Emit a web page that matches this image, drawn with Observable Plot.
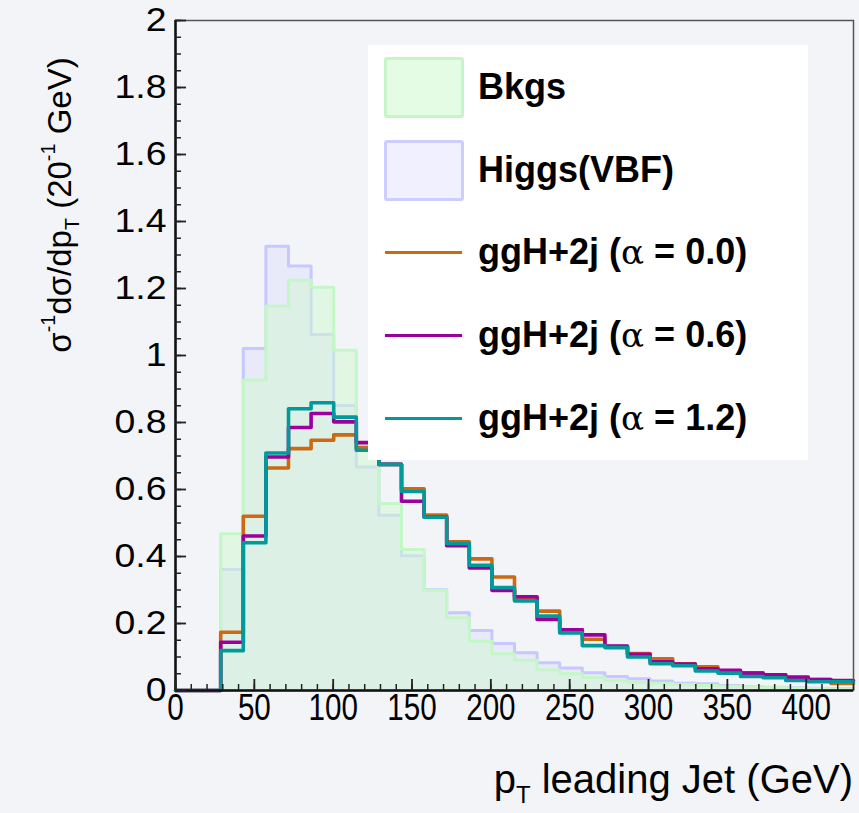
<!DOCTYPE html>
<html><head><meta charset="utf-8">
<script src="https://cdn.jsdelivr.net/npm/d3@7"></script>
<script src="https://cdn.jsdelivr.net/npm/@observablehq/plot@0.6"></script>
<style>
html,body{margin:0;padding:0;background:#f3f4f7;}
#wrap{position:relative;width:859px;height:813px;overflow:hidden;font-family:"Liberation Sans",Arial,Helvetica,sans-serif;color:#000;}
#legend{position:absolute;left:368px;top:45px;width:440px;height:415px;background:#fff;}
.sw{position:absolute;left:16px;width:74px;height:55px;border-radius:3px;}
.ln{position:absolute;left:17px;width:77px;height:3px;}
.lt{position:absolute;left:110px;font-weight:bold;font-size:36px;line-height:40px;white-space:nowrap;transform:translateY(-50%);}
.lt .a{font-weight:normal;font-family:"DejaVu Serif","Liberation Serif",serif;font-size:0.95em;}
#ytitle{position:absolute;left:60px;top:205px;font-size:33px;white-space:nowrap;transform:translate(-50%,-50%) rotate(-90deg);}
#xtitle{position:absolute;right:6px;top:757px;font-size:40px;white-space:nowrap;transform-origin:right center;}
sup,sub{font-size:0.6em;line-height:0;}
sup{vertical-align:0.8em;}
sub{vertical-align:-0.4em;}
</style></head><body><div id="wrap"></div>
<script>
// Binning (30 bins over 0–430 GeV)
const xMin = 0, xMax = 430, nBins = 30;
// Series values, one per bin
const bkgs   = [0,0,0.468,0.927,1.147,1.225,1.204,1.016,0.735,0.558,0.421,0.299,0.217,0.147,0.110,0.090,0.061,0.050,0.039,0.030,0.025,0.022,0.018,0.015,0.013,0.011,0.009,0.007,0.006,0.005];
const vbf    = [0,0,0.361,1.021,1.326,1.267,1.063,0.851,0.667,0.523,0.402,0.301,0.232,0.179,0.140,0.113,0.083,0.067,0.053,0.042,0.035,0.028,0.022,0.020,0.015,0.012,0.010,0.008,0.007,0.006];
const ggH00  = [0,0,0.174,0.520,0.664,0.722,0.747,0.763,0.725,0.675,0.602,0.524,0.444,0.393,0.339,0.272,0.237,0.181,0.153,0.131,0.110,0.095,0.080,0.071,0.058,0.053,0.047,0.038,0.033,0.021];
const ggH06  = [0,0,0.144,0.461,0.697,0.785,0.827,0.802,0.740,0.675,0.565,0.518,0.432,0.366,0.299,0.280,0.212,0.181,0.166,0.133,0.108,0.086,0.079,0.065,0.060,0.052,0.047,0.040,0.033,0.030];
const ggH12  = [0,0,0.119,0.441,0.709,0.841,0.859,0.816,0.717,0.675,0.594,0.517,0.439,0.374,0.307,0.267,0.222,0.172,0.134,0.128,0.100,0.080,0.074,0.058,0.052,0.042,0.038,0.030,0.026,0.026];
// Ticks
const xMajorTicks = [0,50,100,150,200,250,300,350,400];
const xMinorTicks = d3.range(0, 431, 10);
const yMajorTicks = [0,0.2,0.4,0.6,0.8,1,1.2,1.4,1.6,1.8,2];
const yMinorTicks = d3.range(0, 2.0001, 0.05);
const yTickLabels = ["0","0.2","0.4","0.6","0.8","1","1.2","1.4","1.6","1.8","2"];
const xTickLabels = ["0","50","100","150","200","250","300","350","400"];

const edges = d3.range(nBins + 1).map(i => xMin + i * (xMax - xMin) / nBins);
const steps = vals => edges.map((x, i) => ({x, y: vals[Math.min(i, vals.length - 1)]}));

const W = 859, H = 813, mL = 175, mR = 6, mT = 20, mB = 123;
const pW = W - mL - mR, pH = H - mT - mB;

const chart = Plot.plot({
  width: W, height: H,
  marginLeft: mL, marginRight: mR, marginTop: mT, marginBottom: mB,
  x: {domain: [xMin, xMax], axis: null},
  y: {domain: [0, 2], axis: null},
  style: {background: "transparent", fontFamily: "Liberation Sans, Arial, sans-serif", maxWidth: "none"},
  marks: [
    Plot.areaY(steps(vbf), {x: "x", y: "y", curve: "step-after", fill: "#cfcfff", fillOpacity: 0.3}),
    Plot.line(steps(vbf), {x: "x", y: "y", curve: "step-after", stroke: "#c6c8ff", strokeWidth: 3}),
    Plot.areaY(steps(bkgs), {x: "x", y: "y", curve: "step-after", fill: "#d2f7d2", fillOpacity: 0.5}),
    Plot.line(steps(bkgs), {x: "x", y: "y", curve: "step-after", stroke: "#c4f7c6", strokeWidth: 3}),
    Plot.line(steps(ggH00), {x: "x", y: "y", curve: "step-after", stroke: "#cc6a14", strokeWidth: 3.6}),
    Plot.line(steps(ggH06), {x: "x", y: "y", curve: "step-after", stroke: "#9c009c", strokeWidth: 3.6}),
    Plot.line(steps(ggH12), {x: "x", y: "y", curve: "step-after", stroke: "#009a9a", strokeWidth: 3.6}),
    // frame
    Plot.frame({stroke: "#555", strokeWidth: 1.5}),
    Plot.ruleX([xMin], {stroke: "#111", strokeWidth: 2.5}),
    Plot.ruleY([0], {stroke: "#111", strokeWidth: 2.5}),
    // ticks
    Plot.tickX(xMinorTicks, {x: d => d, insetTop: pH - 6, stroke: "#222", strokeWidth: 1.5}),
    Plot.tickX(xMajorTicks, {x: d => d, insetTop: pH - 11, stroke: "#222", strokeWidth: 1.8}),
    Plot.tickY(yMinorTicks, {y: d => d, insetRight: pW - 6, stroke: "#222", strokeWidth: 1.5}),
    Plot.tickY(yMajorTicks, {y: d => d, insetRight: pW - 11, stroke: "#222", strokeWidth: 1.8}),
    // tick labels
    Plot.text(xMajorTicks, {x: d => d, text: (d, i) => xTickLabels[i], frameAnchor: "bottom", dy: 29, fontSize: 37, fill: "#000"}),
    Plot.text(yMajorTicks, {y: d => d, text: (d, i) => yTickLabels[i], frameAnchor: "left", dx: -9, textAnchor: "end", fontSize: 34, fill: "#000"})
  ]
});
const wrap = document.getElementById("wrap");
wrap.appendChild(chart);

// condense the x tick labels / widen the y tick labels like the reference
chart.querySelectorAll('g[font-size="37"] text').forEach(t => {
  const L = t.getComputedTextLength();
  t.setAttribute("textLength", (L * 0.8).toFixed(1));
  t.setAttribute("lengthAdjust", "spacingAndGlyphs");
});
chart.querySelectorAll('g[font-size="34"] text').forEach(t => {
  const L = t.getComputedTextLength();
  t.setAttribute("textLength", (L * 1.1).toFixed(1));
  t.setAttribute("lengthAdjust", "spacingAndGlyphs");
});

const legendItems = [
  {label: "Bkgs", type: "box", fill: "#e4fbe4", stroke: "#c6f5c8", y: 87},
  {label: "Higgs(VBF)", type: "box", fill: "#f0f0ff", stroke: "#cdcdff", y: 170},
  {label: "ggH+2j (<span class='a'>&alpha;</span> = 0.0)", type: "line", color: "#cc6a14", y: 252},
  {label: "ggH+2j (<span class='a'>&alpha;</span> = 0.6)", type: "line", color: "#9c009c", y: 335},
  {label: "ggH+2j (<span class='a'>&alpha;</span> = 1.2)", type: "line", color: "#009a9a", y: 418}
];
const lg = document.createElement("div");
lg.id = "legend";
const top0 = 45;
for (const it of legendItems) {
  const cy = it.y - top0;
  if (it.type === "box") {
    const s = document.createElement("div");
    s.className = "sw";
    s.style.top = (cy - 30) + "px";
    s.style.background = it.fill;
    s.style.border = "3px solid " + it.stroke;
    lg.appendChild(s);
  } else {
    const s = document.createElement("div");
    s.className = "ln";
    s.style.top = (cy - 1.5) + "px";
    s.style.background = it.color;
    lg.appendChild(s);
  }
  const t = document.createElement("div");
  t.className = "lt";
  t.style.top = cy + "px";
  t.innerHTML = it.label;
  lg.appendChild(t);
}
wrap.appendChild(lg);

const yt = document.createElement("div");
yt.id = "ytitle";
yt.innerHTML = "&sigma;<sup>-1</sup>d&sigma;/dp<sub>T</sub> (20<sup>-1</sup> GeV)";
wrap.appendChild(yt);

const xt = document.createElement("div");
xt.id = "xtitle";
xt.innerHTML = "p<sub>T</sub> leading Jet (GeV)";
wrap.appendChild(xt);
</script>
</body></html>
